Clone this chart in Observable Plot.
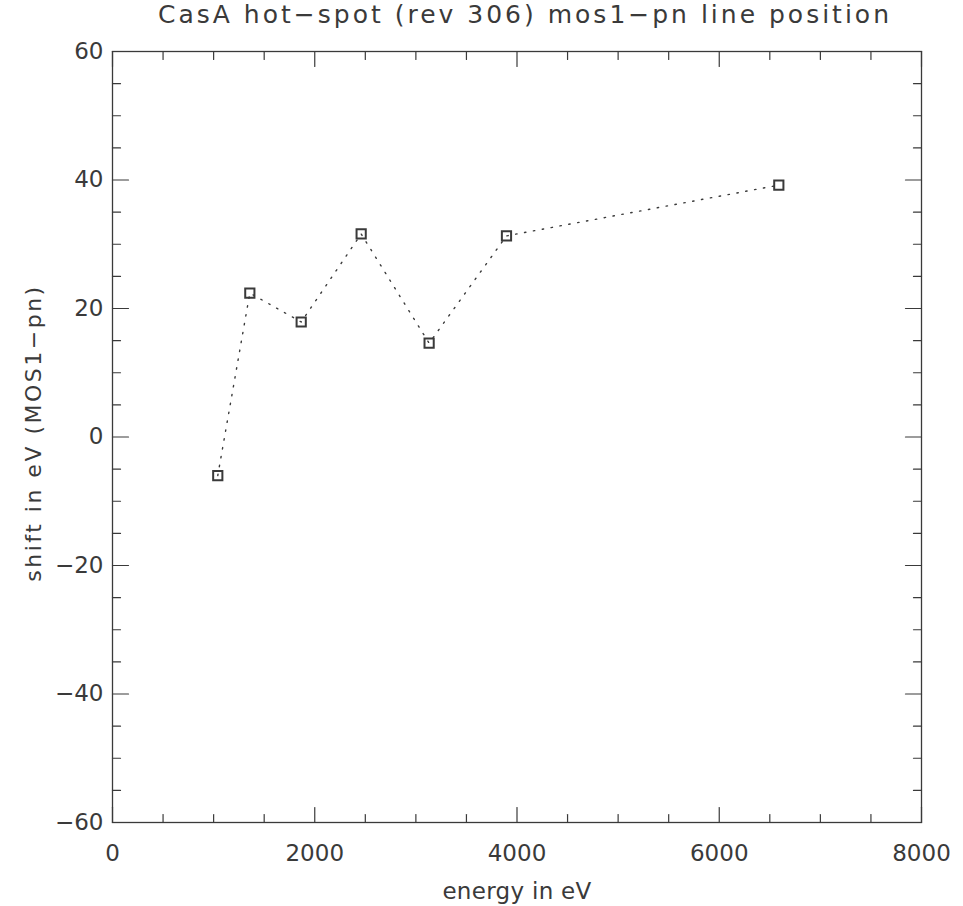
<!DOCTYPE html>
<html>
<head>
<meta charset="utf-8">
<script src="https://cdn.jsdelivr.net/npm/d3@7"></script>
<script src="https://cdn.jsdelivr.net/npm/@observablehq/plot@0.6"></script>
<style>
  body { margin: 0; background: #fff; }
</style>
</head>
<body>
<div id="chart"></div>
<script>
// data
const energy = [1041, 1358, 1866, 2459, 3131, 3896, 6589];
const shift  = [-6.0, 22.4, 17.9, 31.6, 14.6, 31.3, 39.2];

// axes and texts
const xDomain = [0, 8000];
const yDomain = [-60, 60];
const xMajorTicks = [0, 2000, 4000, 6000, 8000];
const xMinorTicks = [500, 1000, 1500, 2500, 3000, 3500, 4500, 5000, 5500, 6500, 7000, 7500];
const yMajorTicks = [-60, -40, -20, 0, 20, 40, 60];
const yMinorTicks = [-55, -50, -45, -35, -30, -25, -15, -10, -5, 5, 10, 15, 25, 30, 35, 45, 50, 55];
const title = "CasA hot−spot (rev 306) mos1−pn line position";
const xLabel = "energy in eV";
const yLabel = "shift in eV (MOS1−pn)";

const points = energy.map((e, i) => ({energy: e, shift: shift[i]}));
const ink = "#3a3a3a";
const font = "'DejaVu Sans', sans-serif";
const tickShape = {draw(ctx, l) { ctx.moveTo(0, 0); ctx.lineTo(0, -l); }};

function ticks(values, axis, side, len) {
  const o = {length: len, anchor: "start", shape: tickShape, stroke: ink, strokeWidth: 1.2};
  if (axis === "x") {
    return Plot.vector(values, {x: d => d, y: side === "bottom" ? yDomain[0] : yDomain[1], rotate: side === "bottom" ? 0 : 180, ...o});
  }
  return Plot.vector(values, {y: d => d, x: side === "left" ? xDomain[0] : xDomain[1], rotate: side === "left" ? 90 : 270, ...o});
}

const chart = Plot.plot({
  width: 963,
  height: 906,
  marginLeft: 112,
  marginRight: 42,
  marginTop: 51,
  marginBottom: 84,
  style: {fontFamily: font, fontSize: "22px", color: ink, background: "#fff"},
  x: {domain: xDomain},
  y: {domain: yDomain},
  marks: [
    Plot.frame({stroke: ink, strokeWidth: 1.3}),
    ticks(xMajorTicks, "x", "bottom", 15),
    ticks(xMinorTicks, "x", "bottom", 8),
    ticks(xMajorTicks, "x", "top", 15),
    ticks(xMinorTicks, "x", "top", 8),
    ticks(yMajorTicks, "y", "left", 16),
    ticks(yMinorTicks, "y", "left", 8),
    ticks(yMajorTicks, "y", "right", 16),
    ticks(yMinorTicks, "y", "right", 8),
    Plot.axisX({ticks: xMajorTicks, tickFormat: "d", tickSize: 0, tickPadding: 22, fontSize: 23,
      label: xLabel, labelAnchor: "center", labelArrow: "none", labelOffset: 76, fill: ink}),
    Plot.axisY({ticks: yMajorTicks, tickFormat: "d", tickSize: 0, tickPadding: 9, fontSize: 23,
      label: null, fill: ink}),
    Plot.text([yLabel], {frameAnchor: "left", textAnchor: "middle", dx: -79, dy: -4, rotate: -90, fontSize: 22, fill: ink, text: d => d}),
    Plot.text([title], {frameAnchor: "top", textAnchor: "middle", dx: 8, dy: -29, lineAnchor: "bottom", fontSize: 25, fill: ink, text: d => d}),
    Plot.line(points, {x: "energy", y: "shift", stroke: ink, strokeWidth: 1.4, strokeDasharray: "1.4,7.6"}),
    Plot.dot(points, {x: "energy", y: "shift", symbol: "square", r: 5.2, stroke: ink, strokeWidth: 2, fill: "none"})
  ]
});
// wider letter spacing, like the original plotting font
d3.select(chart).selectAll("text").each(function() {
  const t = this.textContent;
  if (t === title) this.style.letterSpacing = "3px";
  else if (t === yLabel) this.style.letterSpacing = "2.5px";
  else if (t === xLabel) this.style.letterSpacing = "0.3px";
});
document.getElementById("chart").appendChild(chart);
</script>
</body>
</html>
